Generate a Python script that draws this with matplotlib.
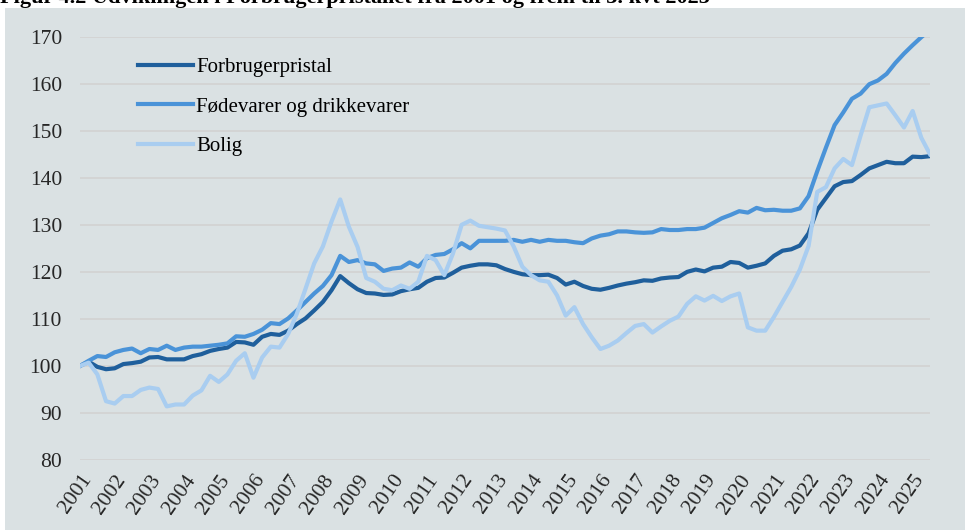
import matplotlib
matplotlib.use('Agg')
import matplotlib.pyplot as plt
from matplotlib.patches import Rectangle
import numpy as np

plt.rcParams['font.family'] = ['Liberation Serif', 'DejaVu Serif']

# kvartalsdata 2001K1 - 2025K3, indeks 2001K1 = 100
years = list(range(2001, 2026))

forbruger = [
    100.0, 100.9, 99.8, 99.3, 99.5, 100.4, 100.6, 100.9, 101.8, 101.9,
    101.4, 101.4, 101.4, 102.1, 102.5, 103.2, 103.6, 103.9, 105.1, 105.0,
    104.5, 106.2, 106.8, 106.6, 107.5, 108.9, 110.1, 111.8, 113.6, 116.1,
    119.1, 117.6, 116.3, 115.5, 115.4, 115.1, 115.2, 115.9, 116.3, 116.6,
    117.9, 118.7, 118.8, 119.8, 120.9, 121.3, 121.6, 121.6, 121.4, 120.6,
    120.0, 119.5, 119.3, 119.3, 119.4, 118.7, 117.3, 117.9, 117.0, 116.4,
    116.2, 116.6, 117.1, 117.5, 117.8, 118.2, 118.1, 118.6, 118.8, 118.9,
    120.0, 120.5, 120.1, 120.9, 121.1, 122.1, 121.9, 120.9, 121.3, 121.8,
    123.4, 124.5, 124.8, 125.6, 128.2, 133.2, 135.7, 138.2, 139.1, 139.3,
    140.6, 142.0, 142.7, 143.4, 143.1, 143.1, 144.5, 144.4, 144.6,
]

foedevarer = [
    100.0, 101.1, 102.1, 101.9, 102.9, 103.4, 103.7, 102.7, 103.6, 103.4,
    104.3, 103.4, 103.9, 104.1, 104.1, 104.3, 104.5, 104.8, 106.3, 106.2,
    106.8, 107.7, 109.1, 108.9, 110.1, 111.8, 113.6, 115.4, 117.0, 119.3,
    123.4, 122.1, 122.5, 121.8, 121.6, 120.2, 120.7, 120.9, 122.0, 121.1,
    122.9, 123.6, 123.8, 124.8, 126.1, 125.0, 126.6, 126.6, 126.6, 126.6,
    126.8, 126.4, 126.8, 126.4, 126.8, 126.6, 126.6, 126.3, 126.1, 127.1,
    127.7, 128.0, 128.6, 128.6, 128.4, 128.3, 128.4, 129.1, 128.9, 128.9,
    129.1, 129.1, 129.4, 130.4, 131.4, 132.1, 132.9, 132.6, 133.6, 133.1,
    133.2, 133.0, 133.0, 133.5, 136.1, 141.4, 146.4, 151.2, 153.9, 156.8,
    157.9, 159.9, 160.7, 162.1, 164.4, 166.4, 168.2, 169.9, 171.5,
]

bolig = [
    100.0, 100.7, 98.2, 92.5, 92.0, 93.6, 93.6, 94.9, 95.4, 95.1,
    91.4, 91.8, 91.8, 93.7, 94.8, 97.9, 96.6, 98.2, 101.1, 102.7,
    97.5, 101.8, 104.1, 103.9, 106.8, 111.1, 116.4, 121.8, 125.4, 130.7,
    135.4, 129.6, 125.3, 118.7, 117.9, 116.4, 116.1, 117.1, 116.4, 117.9,
    123.4, 122.5, 119.3, 123.9, 130.0, 130.9, 129.8, 129.5, 129.2, 128.8,
    125.4, 121.1, 119.3, 118.2, 117.9, 115.0, 110.7, 112.5, 108.9, 106.1,
    103.6, 104.3, 105.4, 107.0, 108.5, 108.9, 107.1, 108.4, 109.6, 110.5,
    113.2, 114.8, 113.9, 114.9, 113.8, 114.8, 115.4, 108.2, 107.5, 107.5,
    110.4, 113.6, 116.8, 120.5, 125.5, 137.0, 138.0, 142.0, 144.0, 142.7,
    149.0, 155.0, 155.4, 155.8, 153.3, 150.7, 154.2, 148.5, 145.0,
]

bg = '#dae1e3'
fig = plt.figure(figsize=(9.65, 5.3), dpi=100, facecolor='white')
fig.patches.append(Rectangle((5/965, 0), 1, 1 - 8/530, transform=fig.transFigure,
                             facecolor=bg, edgecolor='none', zorder=-10))
# titlen er beskaaret i toppen ligesom i originalen
fig.text(0.0, 1 - 3/530, 'Figur 4.2 Udviklingen i Forbrugerpristallet fra 2001 og frem til 3. kvt 2025',
         fontsize=16, fontweight='bold', va='baseline', ha='left', color='black')

ax = fig.add_axes([80/965, 1 - 460/530, 850/965, (460 - 36.7)/530])
ax.set_facecolor(bg)
x = np.arange(len(forbruger))
ax.plot(x, forbruger, color='#1f5f9c', lw=3, label='Forbrugerpristal', solid_joinstyle='round')
ax.plot(x, foedevarer, color='#4a93d8', lw=3, label='Fødevarer og drikkevarer', solid_joinstyle='round')
ax.plot(x, bolig, color='#a9cdf0', lw=3, label='Bolig', solid_joinstyle='round')

ax.set_xlim(0, len(forbruger) - 1)
ax.set_ylim(80, 170)
ax.set_yticks(range(80, 171, 10))
ax.set_xticks(np.arange(len(years)) * 4)
ax.set_xticklabels([str(y) for y in years], rotation=55, ha='right', va='top',
                   rotation_mode='anchor')
ax.tick_params(axis='both', length=0, labelsize=15.5, colors='#262626')
ax.tick_params(axis='y', pad=13)
ax.tick_params(axis='x', pad=8)
ax.grid(axis='y', color='#d3d3d3', lw=1.3)
ax.set_axisbelow(True)
for s in ax.spines.values():
    s.set_visible(False)

ax.legend(loc='upper left', bbox_to_anchor=(0.058, 0.97), frameon=False, fontsize=15,
          handlelength=2.65, handletextpad=0.15, labelspacing=0.95, borderaxespad=0)

fig.savefig('out.png', dpi=100, facecolor='white')
